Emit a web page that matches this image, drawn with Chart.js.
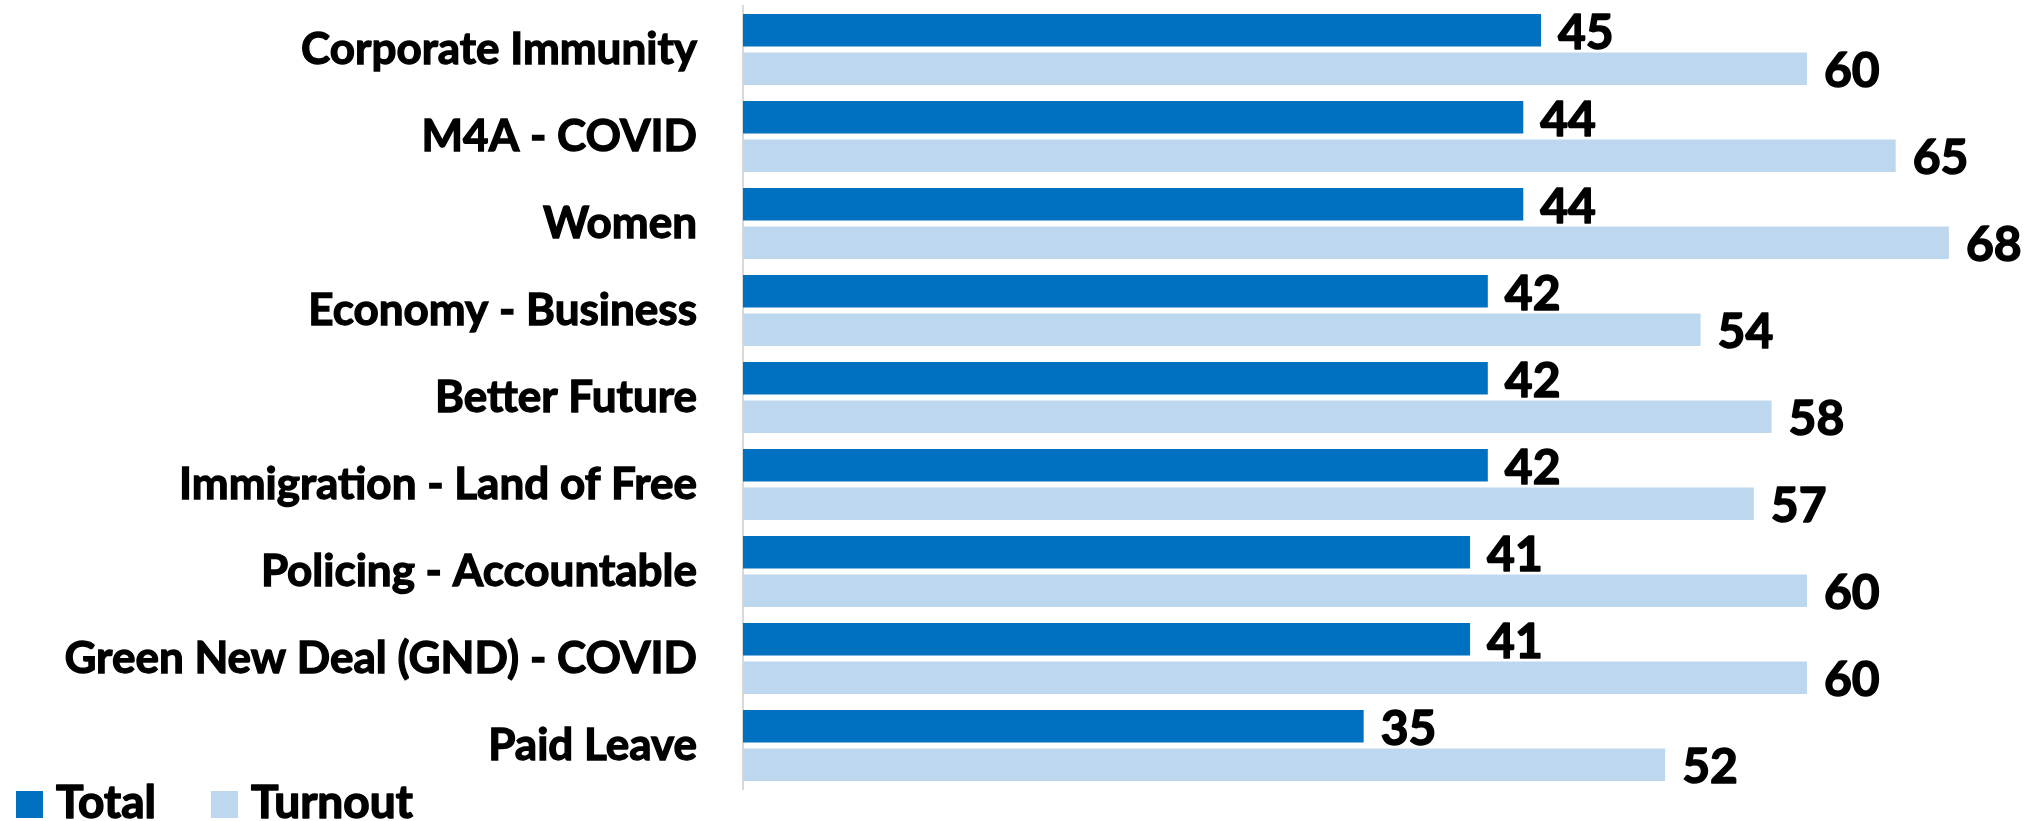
<!DOCTYPE html>
<html>
<head>
<meta charset="utf-8">
<script src="https://cdn.jsdelivr.net/npm/chart.js@4.4.1/dist/chart.umd.min.js"></script>
<style>
  html, body { margin: 0; padding: 0; background: #fff; }
  #wrap { position: relative; width: 2034px; height: 821px; }
</style>
</head>
<body>
<div id="wrap"><canvas id="chart"></canvas></div>
<script>
const categories = [
  "Corporate Immunity",
  "M4A - COVID",
  "Women",
  "Economy - Business",
  "Better Future",
  "Immigration - Land of Free",
  "Policing - Accountable",
  "Green New Deal (GND) - COVID",
  "Paid Leave"
];
const totalValues = [45, 44, 44, 42, 42, 42, 41, 41, 35];
const turnoutValues = [60, 65, 68, 54, 58, 57, 60, 60, 52];
const seriesNames = ["Total", "Turnout"];
const seriesColors = ["#0070C0", "#BDD7EE"];

const FONT = "Lato, 'Open Sans', sans-serif";

// thin stroke makes Lato Bold look closer to the heavier original face
function heavyText(ctx, text, x, y) {
  ctx.lineWidth = 1.5;
  ctx.strokeStyle = "#000";
  ctx.lineJoin = "round";
  ctx.strokeText(text, x, y);
  ctx.fillText(text, x, y);
}

// numbers at the end of each bar
const valueLabels = {
  id: "valueLabels",
  afterDatasetsDraw(chart) {
    const ctx = chart.ctx;
    ctx.save();
    ctx.font = "bold 48px " + FONT;
    ctx.fillStyle = "#000";
    ctx.textAlign = "left";
    ctx.textBaseline = "middle";
    chart.data.datasets.forEach((ds, i) => {
      chart.getDatasetMeta(i).data.forEach((bar, j) => {
        heavyText(ctx, String(ds.data[j]), bar.x + 17, bar.y + 3);
      });
    });
    ctx.restore();
  }
};

// legend sits in the bottom-left corner, beside the plot
const cornerLegend = {
  id: "cornerLegend",
  afterDraw(chart) {
    const ctx = chart.ctx;
    ctx.save();
    ctx.font = "bold 46px " + FONT;
    ctx.textAlign = "left";
    ctx.textBaseline = "alphabetic";
    let x = 16;
    chart.data.datasets.forEach((ds) => {
      ctx.fillStyle = ds.backgroundColor;
      ctx.fillRect(x, 791, 27, 27);
      ctx.fillStyle = "#000";
      heavyText(ctx, ds.label, x + 40, 818);
      x += 40 + ctx.measureText(ds.label).width + 55;
    });
    ctx.restore();
  }
};

new Chart(document.getElementById("chart"), {
  type: "bar",
  data: {
    labels: categories,
    datasets: [
      { label: seriesNames[0], data: totalValues, backgroundColor: seriesColors[0] },
      { label: seriesNames[1], data: turnoutValues, backgroundColor: seriesColors[1] }
    ]
  },
  options: {
    indexAxis: "y",
    responsive: true,
    maintainAspectRatio: false,
    animation: false,
    datasets: {
      bar: { barPercentage: 0.845, categoryPercentage: 0.885 }
    },
    layout: { padding: { top: 6, bottom: 32, left: 0, right: 0 } },
    plugins: {
      legend: { display: false },
      tooltip: { enabled: false }
    },
    scales: {
      x: {
        display: false,
        min: 0,
        max: 72.8
      },
      y: {
        grid: { display: false, drawTicks: false },
        border: { display: true, color: "#D9D9D9", width: 2 },
        ticks: {
          color: "#000",
          padding: 46,
          textStrokeColor: "#000",
          textStrokeWidth: 1.3,
          font: { family: FONT, size: 44, weight: "bold" }
        },
        afterFit(scale) {
          scale.width = 743;
          scale.paddingTop = 0;
          scale.paddingBottom = 0;
        }
      }
    }
  },
  plugins: [valueLabels, cornerLegend]
});
</script>
</body>
</html>
